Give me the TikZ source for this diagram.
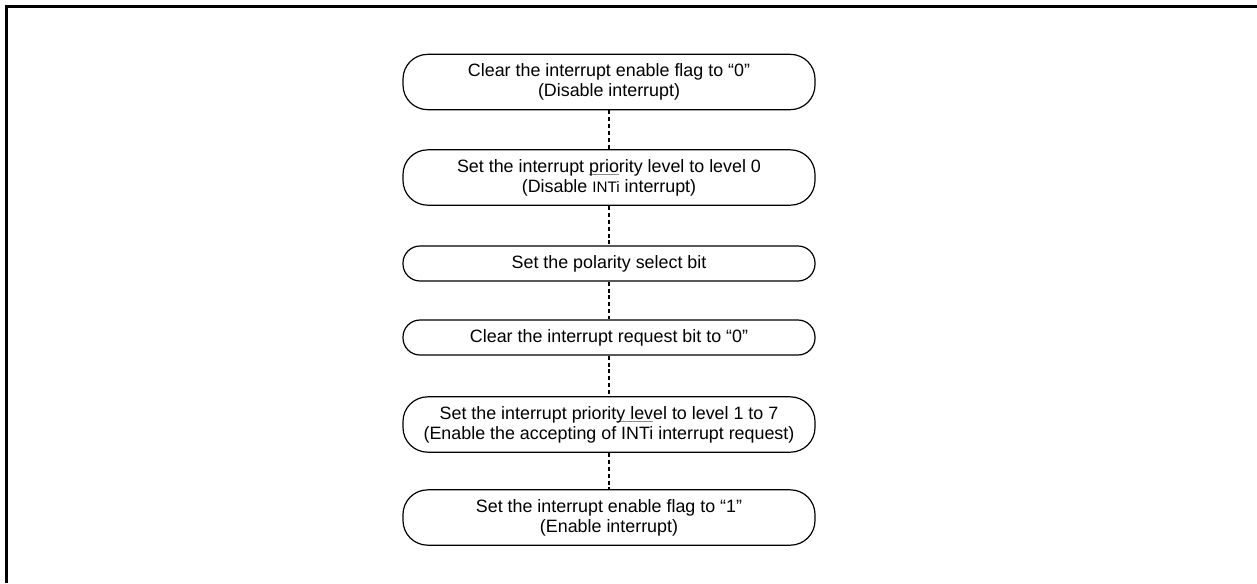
\documentclass[tikz,border=0pt]{standalone}
\usepackage{fontspec}
\setmainfont{Liberation Sans}
\newcommand\grayul[1]{\setbox0\hbox{#1}\rlap{\color{black!45}\rule[-1.4pt]{\wd0}{0.4pt}}#1}
\begin{document}
\begin{tikzpicture}[x=0.75pt,y=-0.75pt,
  stepbox/.style={draw,line width=0.9pt,minimum width=309pt,align=center,
    font=\fontsize{13.4}{14.9}\selectfont,inner sep=0pt},
  tallbox/.style={stepbox,minimum height=41.5pt,rounded corners=18.5pt},
  flatbox/.style={stepbox,minimum height=26.25pt,rounded corners=12.8pt},
  link/.style={line width=0.8pt,dash pattern=on 3pt off 2.2pt}]
\useasboundingbox (0,0) rectangle (1257,583);
\draw[line width=1.7pt] (6.5,583) -- (6.5,6.5) -- (1257,6.5);
\node[tallbox] (b1) at (609,82) {Clear the interrupt enable flag to “0”\\(Disable interrupt)};
\node[tallbox] (b2) at (609,177.5) {Set the interrupt \grayul{prio}rity level to level 0\\(Disable {\fontsize{11.4}{13}\selectfont INTi} interrupt)};
\node[flatbox] (b3) at (609,263.5) {Set the polarity select bit};
\node[flatbox] (b4) at (609,337.5) {Clear the interrupt request bit to “0”};
\node[tallbox] (b5) at (609,424.5) {Set the interrupt priorit\grayul{y lev}el to level 1 to 7\\(Enable the accepting of INTi interrupt request)};
\node[tallbox] (b6) at (609,517.5) {Set the interrupt enable flag to “1”\\(Enable interrupt)};
\draw[link] (b1) -- (b2);
\draw[link] (b2) -- (b3);
\draw[link] (b3) -- (b4);
\draw[link] (b4) -- (b5);
\draw[link] (b5) -- (b6);
\end{tikzpicture}
\end{document}
